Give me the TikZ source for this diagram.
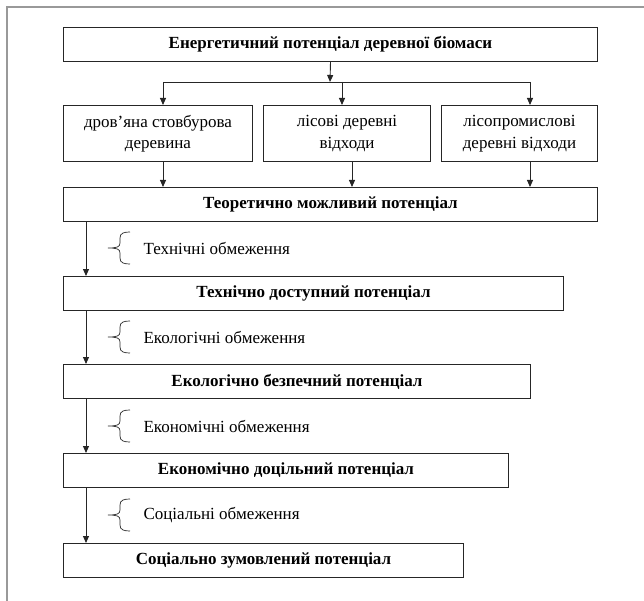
\documentclass[tikz,border=0pt]{standalone}
\usepackage{fontspec}
\setmainfont{Liberation Serif}
\usetikzlibrary{arrows.meta}
\begin{document}
\begin{tikzpicture}[x=1pt,y=-1pt,
	box/.style={draw=black!85,line width=1pt,inner sep=0pt,anchor=north west,minimum height=34pt,font=\fontsize{17}{21.5}\selectfont\bfseries},
	part/.style={box,minimum height=56pt,align=center,font=\fontsize{17}{21.5}\selectfont},
	arr/.style={draw=black!85,line width=.9pt,-{Triangle[length=7pt,width=6pt]}}]
\useasboundingbox (0,0) rectangle (644,601);
\draw[gray!80,line width=1.5pt] (7,601) -- (7,7) -- (644,7);
\node[box,minimum width=534pt] (energy) at (63,27) {Енергетичний потенціал деревної біомаси};
\node[part,minimum width=189pt] (wood) at (63,105) {дров’яна стовбурова\\деревина};
\node[part,minimum width=167pt] (forest) at (263,105) {лісові деревні\\відходи};
\node[part,minimum width=156pt] (industry) at (441,105) {лісопромислові\\деревні відходи};
\node[box,minimum width=534pt] (theor) at (63,187) {Теоретично можливий потенціал};
\node[box,minimum width=500pt] (tech) at (63,276) {Технічно доступний потенціал};
\node[box,minimum width=467pt] (eco) at (63,364) {Екологічно безпечний потенціал};
\node[box,minimum width=445pt] (econ) at (63,453) {Економічно доцільний потенціал};
\node[box,minimum width=400pt] (soc) at (63,543) {Соціально зумовлений потенціал};
\coordinate (split) at (330,82);
\coordinate (bl) at (163,82);
\coordinate (bm) at (342,82);
\coordinate (br) at (530,82);
\draw[arr] (energy.south) -- (split);
\draw[draw=black!85,line width=.9pt] (bl) -- (br);
\foreach \c/\n in {bl/wood,bm/forest,br/industry}
	\draw[arr] (\c) -- (\c |- \n.north);
\foreach \x/\n in {163/wood,352/forest,530/industry}
	\draw[arr] (\n.south -| \x,0) -- (theor.north -| \x,0);
\foreach \a/\b in {theor/tech,tech/eco,eco/econ,econ/soc}
	\draw[arr] (\a.south -| 86,0) -- (\b.north -| 86,0);
\foreach \y/\t [count=\i] in {248/Технічні обмеження,337/Екологічні обмеження,426/Економічні обмеження,515/Соціальні обмеження}{
	\draw[line width=.7pt,black!85] (130,\y-16) .. controls (124,\y-16) and (120,\y-15) .. (120,\y-10) -- (120,\y-5) .. controls (120,\y-1) and (117,\y) .. (108,\y) .. controls (117,\y) and (120,\y+1) .. (120,\y+5) -- (120,\y+10) .. controls (120,\y+15) and (124,\y+16) .. (130,\y+16);
	\node[anchor=west,font=\fontsize{17}{21.5}\selectfont] (limit\i) at (140,\y) {\t};
}
\end{tikzpicture}
\end{document}
